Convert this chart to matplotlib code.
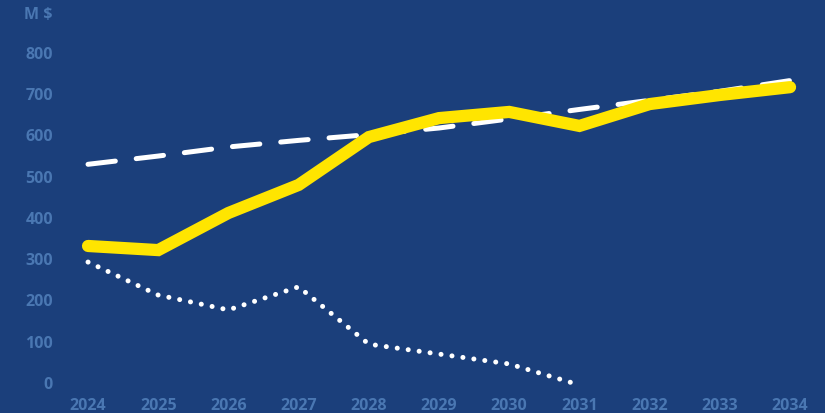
import matplotlib
matplotlib.use("Agg")
import matplotlib.pyplot as plt
from matplotlib.transforms import blended_transform_factory

years = [2024, 2025, 2026, 2027, 2028, 2029, 2030, 2031, 2032, 2033, 2034]
solid_vals = [337, 327, 417, 485, 601, 647, 662, 628, 681, 703, 722]
dashed_vals = [535, 555, 577, 593, 607, 623, 645, 668, 690, 712, 738]
dotted_years = [2024, 2025, 2026, 2027, 2028, 2029, 2030, 2031]
dotted_vals = [298, 218, 182, 238, 99, 75, 51, 0]
y_ticks = [0, 100, 200, 300, 400, 500, 600, 700, 800]
unit_label = "M $"

bg = "#1b3f7b"
label_color = "#4a77b2"

fig = plt.figure(figsize=(8.25, 4.13), dpi=100, facecolor=bg)
ax = fig.add_axes([0, 0, 1, 1])
ax.set_facecolor(bg)
ax.set_xlim(2022.746, 2034.498)
ax.set_ylim(-67.9, 933.3)
ax.axis("off")

ax.plot(years, dashed_vals, color="white", lw=3.6, dashes=(5.5, 4.2),
        dash_capstyle="round", solid_capstyle="round", zorder=3)
ax.plot(dotted_years, dotted_vals, color="white", lw=3.6, linestyle=(0, (0.01, 2.2)),
        dash_capstyle="round", zorder=3)
ax.plot(years, solid_vals, color="#ffe500", lw=8.8, solid_capstyle="round",
        solid_joinstyle="miter", zorder=4)

fp = dict(color=label_color, fontsize=11.5, fontweight="bold",
          family=["Open Sans", "DejaVu Sans"])
trans_y = blended_transform_factory(fig.transFigure, ax.transData)
for t in y_ticks:
    ax.text(53 / 825, t, str(t), transform=trans_y, ha="right", va="center", **fp)
trans_x = blended_transform_factory(ax.transData, fig.transFigure)
for yr in years:
    ax.text(yr, 1 - 406 / 413, str(yr), transform=trans_x, ha="center", va="center", **fp)
ax.text(53 / 825, 1 - 15 / 413, unit_label, transform=fig.transFigure, ha="right",
        va="center", **fp)

fig.savefig("out.png", dpi=100, facecolor=bg)
